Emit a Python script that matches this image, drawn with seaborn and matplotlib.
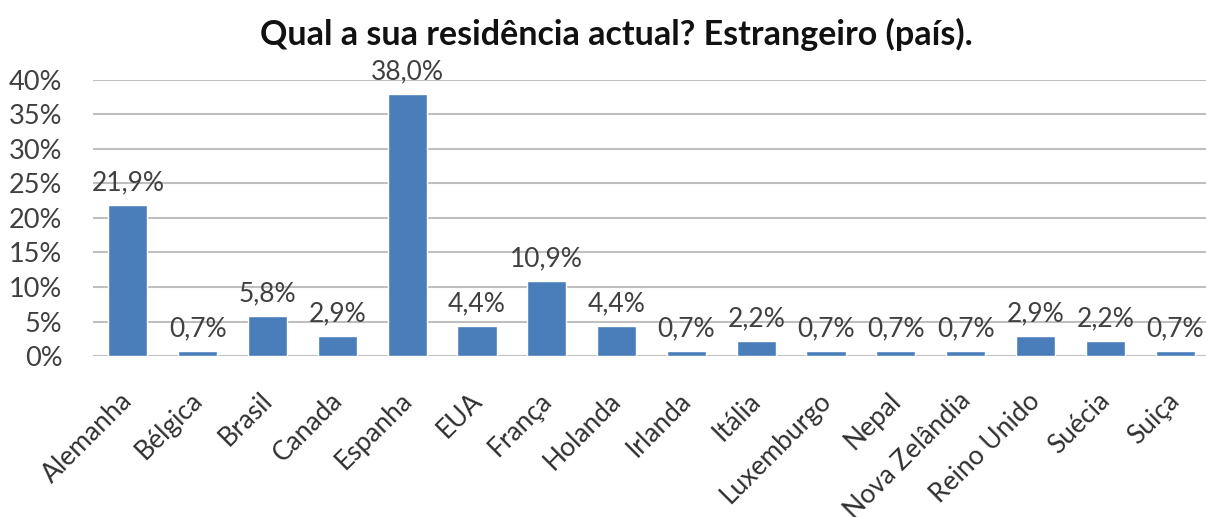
import matplotlib
matplotlib.use("Agg")
import matplotlib.pyplot as plt
from matplotlib.ticker import FuncFormatter, MultipleLocator
from matplotlib.transforms import ScaledTranslation
import seaborn as sns
import pandas as pd

# Survey answers: country of current residence abroad (percent of respondents)
countries = ["Alemanha", "Bélgica", "Brasil", "Canada", "Espanha", "EUA", "França",
             "Holanda", "Irlanda", "Itália", "Luxemburgo", "Nepal", "Nova Zelândia",
             "Reino Unido", "Suécia", "Suiça"]
shares = [21.9, 0.7, 5.8, 2.9, 38.0, 4.4, 10.9, 4.4, 0.7, 2.2, 0.7, 0.7, 0.7, 2.9, 2.2, 0.7]
title = "Qual a sua residência actual? Estrangeiro (país)."

df = pd.DataFrame({"pais": countries, "pct": shares})

sns.set_theme(style="white")
plt.rcParams["font.family"] = ["Lato", "DejaVu Sans"]

W, H = 1206, 517
fig = plt.figure(figsize=(W / 100, H / 100), dpi=100)
ax = fig.add_axes([93 / W, 161 / H, 1117 / W, 276 / H])

bar_color = "#4A7EBB"
sns.barplot(data=df, x="pais", y="pct", color=bar_color, width=0.56,
            saturation=1, ax=ax, zorder=3)

ax.set_ylim(0, 40)
ax.set_xlim(-0.5, len(countries) - 0.5)
ax.yaxis.set_major_locator(MultipleLocator(5))
ax.yaxis.set_major_formatter(FuncFormatter(lambda v, _: f"{v:.0f}%"))
ax.grid(axis="y", color="#BFBFBF", linewidth=1.5, zorder=0)
ax.set_axisbelow(True)
for s in ax.spines.values():
    s.set_visible(False)
ax.set_xlabel("")
ax.set_ylabel("")

ax.tick_params(axis="y", length=0, pad=22, labelsize=19.5, labelcolor="#404040")
ax.tick_params(axis="x", length=0, pad=23, labelsize=19, labelcolor="#303030")
shift = ScaledTranslation(-8 / 100, 0, fig.dpi_scale_trans)
for lbl in ax.get_xticklabels():
    lbl.set_rotation(45)
    lbl.set_ha("right")
    lbl.set_rotation_mode("anchor")
    lbl.set_transform(lbl.get_transform() + shift)

for cont in ax.containers:
    ax.bar_label(cont, labels=[f"{v:.1f}%".replace(".", ",") for v in shares],
                 padding=7, fontsize=19, color="#404040", clip_on=False)

fig.text(0.511, 1 - 34 / H, title, ha="center", va="center",
         fontsize=24.5, fontweight="bold", color="#111111")

fig.savefig("out.png", dpi=100, facecolor="white")
